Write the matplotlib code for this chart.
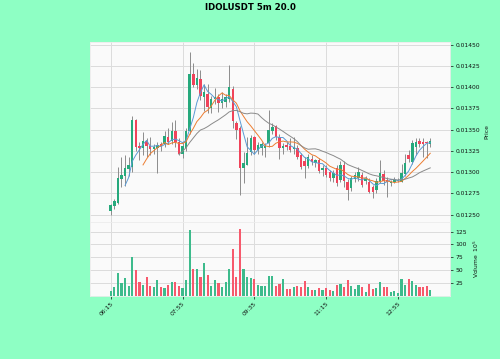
import matplotlib
matplotlib.use("Agg")
import matplotlib.pyplot as plt
import numpy as np
import pandas as pd

title = "IDOLUSDT 5m 20.0"
tick_labels = ["06:15", "07:55", "09:35", "11:15", "12:55"]
tick_index = [0, 20, 40, 60, 80]

opens = [0.01254, 0.01260, 0.01264, 0.01292, 0.01296, 0.01304, 0.01306, 0.01361, 0.01331, 0.01329,
         0.01337, 0.01331, 0.01327, 0.01329, 0.01333, 0.01333, 0.01341, 0.01337, 0.01348, 0.01335,
         0.01321, 0.01329, 0.01348, 0.01416, 0.01403, 0.01410, 0.01388, 0.01392, 0.01376, 0.01386,
         0.01388, 0.01382, 0.01383, 0.01386, 0.01398, 0.01358, 0.01352, 0.01305, 0.01309, 0.01324,
         0.01341, 0.01326, 0.01328, 0.01328, 0.01334, 0.01349, 0.01354, 0.01342, 0.01328, 0.01332,
         0.01331, 0.01327, 0.01328, 0.01320, 0.01313, 0.01307, 0.01316, 0.01311, 0.01314, 0.01302,
         0.01305, 0.01300, 0.01293, 0.01305, 0.01291, 0.01309, 0.01289, 0.01281, 0.01292, 0.01293,
         0.01297, 0.01290, 0.01289, 0.01282, 0.01279, 0.01289, 0.01298, 0.01291, 0.01287, 0.01289,
         0.01290, 0.01289, 0.01298, 0.01320, 0.01312, 0.01330, 0.01337, 0.01336, 0.01335, 0.01333]
highs = [0.01263, 0.01268, 0.01306, 0.01318, 0.01320, 0.01318, 0.01366, 0.01363, 0.01335, 0.01347,
         0.01340, 0.01342, 0.01333, 0.01335, 0.01336, 0.01348, 0.01352, 0.01359, 0.01361, 0.01340,
         0.01335, 0.01352, 0.01442, 0.01428, 0.01421, 0.01420, 0.01404, 0.01404, 0.01390, 0.01399,
         0.01392, 0.01394, 0.01392, 0.01426, 0.01401, 0.01360, 0.01354, 0.01324, 0.01342, 0.01344,
         0.01343, 0.01336, 0.01336, 0.01334, 0.01373, 0.01358, 0.01356, 0.01345, 0.01334, 0.01336,
         0.01340, 0.01342, 0.01332, 0.01323, 0.01318, 0.01322, 0.01320, 0.01316, 0.01317, 0.01308,
         0.01308, 0.01303, 0.01302, 0.01308, 0.01313, 0.01313, 0.01292, 0.01296, 0.01300, 0.01306,
         0.01300, 0.01295, 0.01293, 0.01285, 0.01293, 0.01314, 0.01302, 0.01294, 0.01291, 0.01294,
         0.01293, 0.01310, 0.01322, 0.01326, 0.01338, 0.01340, 0.01340, 0.01340, 0.01337, 0.01340]
lows = [0.01250, 0.01257, 0.01262, 0.01283, 0.01284, 0.01295, 0.01300, 0.01325, 0.01314, 0.01320,
        0.01318, 0.01320, 0.01322, 0.01299, 0.01325, 0.01330, 0.01333, 0.01333, 0.01330, 0.01320,
        0.01317, 0.01325, 0.01345, 0.01400, 0.01398, 0.01385, 0.01372, 0.01370, 0.01370, 0.01380,
        0.01371, 0.01375, 0.01377, 0.01383, 0.01352, 0.01339, 0.01273, 0.01287, 0.01308, 0.01320,
        0.01322, 0.01322, 0.01320, 0.01318, 0.01330, 0.01345, 0.01338, 0.01316, 0.01322, 0.01326,
        0.01324, 0.01322, 0.01316, 0.01304, 0.01293, 0.01305, 0.01308, 0.01306, 0.01299, 0.01296,
        0.01294, 0.01290, 0.01289, 0.01284, 0.01288, 0.01283, 0.01267, 0.01278, 0.01288, 0.01290,
        0.01283, 0.01286, 0.01275, 0.01270, 0.01276, 0.01287, 0.01285, 0.01271, 0.01284, 0.01287,
        0.01288, 0.01288, 0.01296, 0.01312, 0.01310, 0.01320, 0.01330, 0.01318, 0.01317, 0.01330]
closes = [0.01261, 0.01266, 0.01293, 0.01297, 0.01305, 0.01308, 0.01361, 0.01330, 0.01328, 0.01337,
          0.01331, 0.01327, 0.01330, 0.01332, 0.01331, 0.01343, 0.01336, 0.01349, 0.01336, 0.01322,
          0.01331, 0.01349, 0.01416, 0.01403, 0.01411, 0.01390, 0.01394, 0.01377, 0.01386, 0.01389,
          0.01381, 0.01386, 0.01389, 0.01400, 0.01360, 0.01350, 0.01305, 0.01311, 0.01323, 0.01340,
          0.01326, 0.01332, 0.01333, 0.01331, 0.01350, 0.01353, 0.01342, 0.01328, 0.01331, 0.01330,
          0.01326, 0.01330, 0.01318, 0.01306, 0.01307, 0.01318, 0.01312, 0.01314, 0.01301, 0.01305,
          0.01297, 0.01293, 0.01299, 0.01287, 0.01309, 0.01290, 0.01279, 0.01293, 0.01297, 0.01300,
          0.01285, 0.01292, 0.01277, 0.01277, 0.01290, 0.01299, 0.01290, 0.01289, 0.01289, 0.01291,
          0.01291, 0.01299, 0.01311, 0.01315, 0.01334, 0.01336, 0.01333, 0.01333, 0.01334, 0.01337]
volumes = [9, 16, 45, 24, 35, 19, 75, 49, 27, 21,
           36, 18, 16, 30, 17, 14, 21, 26, 27, 18,
           15, 30, 128, 52, 52, 37, 63, 41, 19, 30,
           24, 16, 26, 51, 91, 36, 131, 51, 36, 35,
           32, 21, 18, 18, 38, 38, 18, 22, 32, 13,
           12, 17, 18, 16, 29, 17, 10, 10, 14, 10,
           14, 11, 9, 21, 22, 17, 30, 19, 12, 20,
           16, 7, 22, 13, 14, 26, 17, 16, 7, 8,
           4, 32, 20, 32, 29, 20, 16, 16, 18, 11]
mav_periods = [5, 10, 20]

UP, DOWN = "#26a97c", "#f0435a"
VUP, VDOWN = "#3dbb8c", "#f7596c"
MAV_COLORS = ["#5b9bd5", "#ed7d31", "#8a8a8a"]
BG = "#8effc4"
FACE = "#fafafa"
GRID = "#dcdcdc"
FS = 4.3

o = np.array(opens); h = np.array(highs); l = np.array(lows); c = np.array(closes)
v = np.array(volumes)
x = np.arange(len(c))
up = c >= o

W, H = 500, 359
fig = plt.figure(figsize=(W / 100, H / 100), dpi=100, facecolor=BG)
ax1 = fig.add_axes([90 / W, 1 - 222 / H, 360 / W, 180 / H], facecolor=FACE)
ax2 = fig.add_axes([90 / W, 1 - 295.5 / H, 360 / W, 73.5 / H], facecolor=FACE, sharex=ax1)

ax1.vlines(x, l, h, colors="#8c8c8c", linewidth=0.7, zorder=2)
ax1.bar(x, np.abs(c - o), bottom=np.minimum(o, c), width=0.68,
        color=np.where(up, UP, DOWN), linewidth=0, zorder=3)
cs = pd.Series(c)
for p, col in zip(mav_periods, MAV_COLORS):
    ax1.plot(x, cs.rolling(p).mean(), color=col, linewidth=0.7, zorder=4)

ax2.bar(x, v, width=0.6, color=np.where(up, VUP, VDOWN), linewidth=0, zorder=3)

ax1.set_xlim(-5.77, 94.5)
ax1.set_ylim(0.012414, 0.014532)
ax2.set_ylim(0, 144)

yt = np.arange(0.0125, 0.01451, 0.00025)
ax1.set_yticks(yt)
ax1.set_yticklabels([f"{t:.5f}" for t in yt])
ax2.set_yticks([25, 50, 75, 100, 125])
ax2.set_xticks(tick_index)
ax2.set_xticklabels(tick_labels, rotation=45, ha="right", rotation_mode="anchor")
plt.setp(ax1.get_xticklabels(), visible=False)

for ax in (ax1, ax2):
    ax.yaxis.tick_right()
    ax.yaxis.set_label_position("right")
    ax.tick_params(axis="both", labelsize=FS, colors="#101010", length=2.5, width=0.5, pad=1.5)
    ax.grid(True, color=GRID, linewidth=0.7, zorder=0)
    ax.set_axisbelow(True)
    for s in ax.spines.values():
        s.set_color("#ececec")
        s.set_linewidth(0.6)
ax1.tick_params(axis="x", length=0)

ax1.set_ylabel("Price", fontsize=FS, color="#101010", labelpad=3)
ax2.set_ylabel("Volume  $10^{5}$", fontsize=FS, color="#101010", labelpad=3)

fig.text(0.5, 1 - 8 / H, title, ha="center", va="center", fontsize=6.2, fontweight="bold")

fig.savefig("out.png", dpi=100, facecolor=BG)
